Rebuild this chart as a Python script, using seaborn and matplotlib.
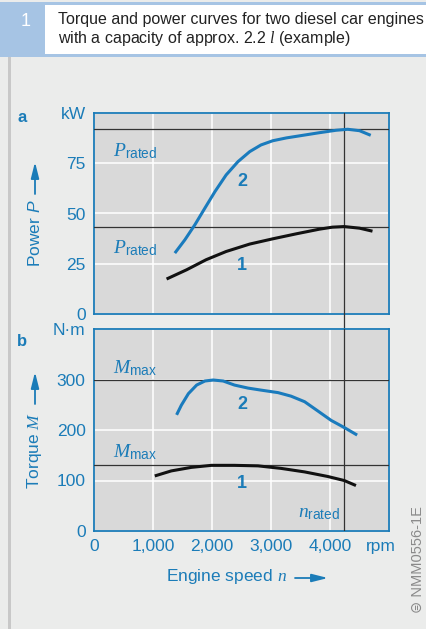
import numpy as np
import pandas as pd
import matplotlib
matplotlib.use('Agg')
import matplotlib.pyplot as plt
from matplotlib.patches import Rectangle
import matplotlib.transforms as mtransforms
import seaborn as sns

# engine speed (rpm) and readings for the two engines
rpm_p1 = [1230, 1570, 1900, 2240, 2640, 3030, 3430, 3820, 4040, 4240, 4500, 4720]
power_1 = [17.4, 22, 27, 31.1, 34.8, 37.4, 39.9, 42.2, 43.2, 43.5, 42.7, 41.2]
rpm_p2 = [1370, 1540, 1710, 1880, 2050, 2240, 2440, 2640, 2830, 3030,
          3260, 3540, 3820, 4100, 4300, 4500, 4690]
power_2 = [30.3, 36.9, 44.4, 52.7, 60.9, 69.2, 75.8, 80.8, 84.1, 86.2,
           87.6, 88.9, 90.2, 91.4, 91.9, 91.2, 88.9]

rpm_m1 = [1030, 1310, 1650, 1990, 2380, 2780, 3170, 3570, 3960, 4240, 4440]
torque_1 = [109, 119, 126, 130, 130, 129, 124, 117, 108, 100, 90]
rpm_m2 = [1400, 1480, 1600, 1740, 1880, 2020, 2190, 2380, 2610,
          2830, 3120, 3340, 3570, 3790, 4020, 4240, 4460]
torque_2 = [230, 249, 272, 289, 297, 299, 297, 289, 283,
            279, 274, 267, 256, 238, 219, 205, 190]

p_rated = [43.5, 92]
m_max = [131, 300]
n_rated = 4230

x_ticks = [0, 1000, 2000, 3000, 4000, 5000]
x_labels = ['0', '1,000', '2,000', '3,000', '4,000', 'rpm']
p_ticks = [0, 25, 50, 75, 100]
p_labels = ['0', '25', '50', '75', 'kW']
m_ticks = [0, 100, 200, 300, 400]
m_labels = ['0', '100', '200', '300', 'N·m']

BLUE = '#1b7cb8'
CURVE = '#1a7bbd'
FACE = '#d9d9d9'
BG = '#ebeceb'

sns.set_theme(style='darkgrid')
plt.rcParams['font.family'] = ['Liberation Sans', 'DejaVu Sans']
plt.rcParams['mathtext.fontset'] = 'custom'
plt.rcParams['mathtext.it'] = 'Liberation Serif:italic'
plt.rcParams['mathtext.rm'] = 'Liberation Sans'
plt.rcParams['mathtext.sf'] = 'Liberation Sans:italic'
plt.rcParams['mathtext.bf'] = 'Liberation Sans:bold'

W, H = 427, 629
fig = plt.figure(figsize=(W / 100, H / 100), dpi=100, facecolor=BG)


def fx(px):
    return px / W


def fy(py):
    return 1 - py / H


# header band
fig.patches.append(Rectangle((0, fy(57)), 1, fy(2) - fy(57), transform=fig.transFigure,
                             facecolor='#a6c4e4', edgecolor='none', zorder=0))
fig.patches.append(Rectangle((fx(45), fy(54)), 1, fy(5) - fy(54), transform=fig.transFigure,
                             facecolor='white', edgecolor='none', zorder=1))
fig.patches.append(Rectangle((fx(8), 0), fx(3), fy(57), transform=fig.transFigure,
                             facecolor='#c8c8c8', edgecolor='none', zorder=1))
fig.text(fx(26), fy(22), '1', color='white', fontsize=13, ha='center', va='center')
fig.text(fx(58), fy(30), 'Torque and power curves for two diesel car engines\n'
         r'with a capacity of approx. 2.2 $l$ (example)',
         color='#222222', fontsize=11.5, ha='left', va='center', linespacing=1.15)

ax1 = fig.add_axes([fx(94), fy(314), fx(389) - fx(94), fy(113) - fy(314)])
ax2 = fig.add_axes([fx(94), fy(531), fx(389) - fx(94), fy(329) - fy(531)])

df_p = pd.concat([
    pd.DataFrame({'rpm': rpm_p1, 'val': power_1, 'engine': '1'}),
    pd.DataFrame({'rpm': rpm_p2, 'val': power_2, 'engine': '2'}),
])
df_m = pd.concat([
    pd.DataFrame({'rpm': rpm_m1, 'val': torque_1, 'engine': '1'}),
    pd.DataFrame({'rpm': rpm_m2, 'val': torque_2, 'engine': '2'}),
])
pal = {'1': '#111111', '2': CURVE}

for ax, df, ticks, labels, refs in [(ax1, df_p, p_ticks, p_labels, p_rated),
                                    (ax2, df_m, m_ticks, m_labels, m_max)]:
    ax.set_facecolor(FACE)
    for r in refs:
        ax.axhline(r, color='#333333', lw=0.9, zorder=3)
    sns.lineplot(data=df, x='rpm', y='val', hue='engine', palette=pal, lw=2.2,
                 legend=False, ax=ax, zorder=4, solid_joinstyle='round',
                 solid_capstyle='butt')
    ax.set_xlim(0, 5000)
    ax.set_ylim(ticks[0], ticks[-1])
    ax.set_xticks(x_ticks)
    ax.set_yticks(ticks)
    ax.set_yticklabels(labels)
    ax.grid(True, color='white', lw=1.1)
    ax.set_xlabel('')
    ax.set_ylabel('')
    ax.tick_params(length=0, colors=BLUE, labelsize=12.5, pad=6)
    for s in ax.spines.values():
        s.set_visible(True)
        s.set_color(BLUE)
        s.set_linewidth(1.3)

ax1.set_xticklabels([])
ax2.set_xticklabels(x_labels)
# pull the unit label "rpm" in a little, as in the original
rpm_lbl = ax2.get_xticklabels()[-1]
rpm_lbl.set_transform(rpm_lbl.get_transform() +
                      mtransforms.ScaledTranslation(-8 / 100, 0, fig.dpi_scale_trans))

ax1.axvline(n_rated, ymin=-0.09, ymax=1, color='#333333', lw=0.9, clip_on=False, zorder=3)
ax2.axvline(n_rated, color='#333333', lw=0.9, zorder=3)

# annotations in the plots
ax1.text(320, 81, r'$P_{\mathrm{rated}}$', color=BLUE, fontsize=14, va='center')
ax1.text(320, 33, r'$P_{\mathrm{rated}}$', color=BLUE, fontsize=14, va='center')
ax1.text(2510, 66, '2', color=BLUE, fontsize=13, fontweight='bold', ha='center', va='center')
ax1.text(2510, 24, '1', color=BLUE, fontsize=13, fontweight='bold', ha='center', va='center')
ax2.text(320, 323, r'$M_{\mathrm{max}}$', color=BLUE, fontsize=14, va='center')
ax2.text(320, 156, r'$M_{\mathrm{max}}$', color=BLUE, fontsize=14, va='center')
ax2.text(2510, 251, '2', color=BLUE, fontsize=13, fontweight='bold', ha='center', va='center')
ax2.text(2510, 95, '1', color=BLUE, fontsize=13, fontweight='bold', ha='center', va='center')
ax2.text(4170, 34, r'$n_{\mathrm{rated}}$', color=BLUE, fontsize=14, ha='right', va='center')

# panel letters
fig.text(fx(22), fy(117), 'a', color=BLUE, fontsize=12, fontweight='bold', ha='center', va='center')
fig.text(fx(22), fy(341), 'b', color=BLUE, fontsize=12, fontweight='bold', ha='center', va='center')

# axis titles with arrows
arrow = dict(arrowstyle='-|>,head_length=0.8,head_width=0.2', color=BLUE, lw=1.3,
             shrinkA=0, shrinkB=0)
fig.text(fx(35), fy(233), r'Power $\mathsf{P}$', color=BLUE, fontsize=12.5, rotation=90,
         ha='center', va='center')
fig.add_artist(plt.Annotation('', xy=(fx(35), fy(162)), xytext=(fx(35), fy(194)),
                              xycoords='figure fraction', arrowprops=arrow))
fig.text(fx(35), fy(450), r'Torque $M$', color=BLUE, fontsize=12.5, rotation=90,
         ha='center', va='center')
fig.add_artist(plt.Annotation('', xy=(fx(35), fy(372)), xytext=(fx(35), fy(404)),
                              xycoords='figure fraction', arrowprops=arrow))
fig.text(fx(227), fy(577), r'Engine speed $n$', color=BLUE, fontsize=12.5,
         ha='center', va='center')
fig.add_artist(plt.Annotation('', xy=(fx(328), fy(578)), xytext=(fx(295), fy(578)),
                              xycoords='figure fraction', arrowprops=arrow))

fig.text(fx(418), fy(560), '\u229c NMM0556-1E', color='#8a8a8a', fontsize=10.5,
         rotation=90, ha='center', va='center', family=['Liberation Sans', 'DejaVu Sans'])

fig.savefig('out.png', dpi=100, facecolor=BG)
